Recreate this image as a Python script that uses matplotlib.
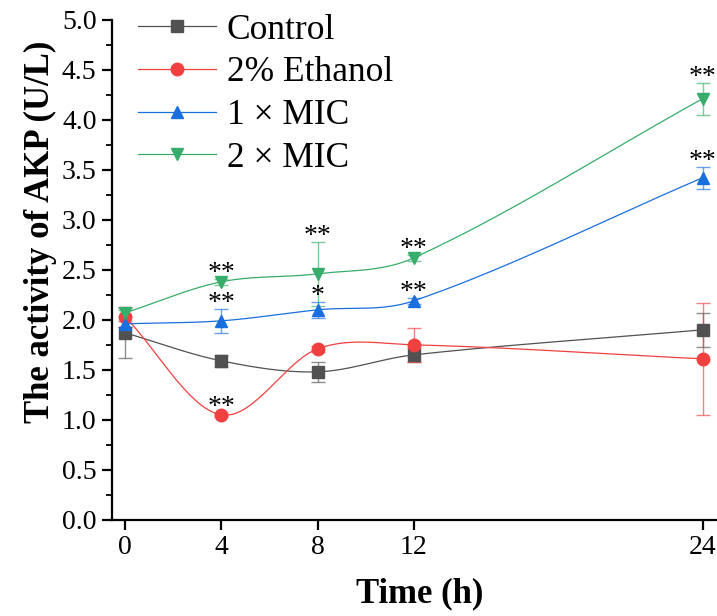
import numpy as np
import matplotlib
matplotlib.use("Agg")
import matplotlib.pyplot as plt
from matplotlib.ticker import MultipleLocator, FormatStrFormatter

plt.rcParams['font.family'] = ['Liberation Serif', 'DejaVu Serif']

# data
hours = [0, 4, 8, 12, 24]
labels = ['Control', '2% Ethanol', '1 × MIC', '2 × MIC']
control = [1.87, 1.59, 1.48, 1.65, 1.90]
control_err = [0.25, 0.06, 0.10, 0.07, 0.17]
ethanol = [2.03, 1.05, 1.71, 1.75, 1.61]
ethanol_err = [0.10, 0.02, 0.03, 0.17, 0.56]
mic1 = [1.96, 1.99, 2.10, 2.19, 3.42]
mic1_err = [0.03, 0.12, 0.08, 0.03, 0.11]
mic2 = [2.07, 2.38, 2.46, 2.62, 4.21]
mic2_err = [0.03, 0.03, 0.32, 0.03, 0.16]
# significance marks per series (index matches hours)
sig_ethanol = ['', '**', '', '', '']
sig_mic1 = ['', '**', '*', '**', '**']
sig_mic2 = ['', '**', '**', '**', '**']

colors = ['#515151', '#F14040', '#1A6FDF', '#37AD6B']
markers = ['s', 'o', '^', 'v']


def smooth_line(x, y, n=60):
    # cubic Hermite curve through the points, finite-difference slopes (drawing only)
    x = np.asarray(x, float)
    y = np.asarray(y, float)
    m = np.empty_like(y)
    m[0] = (y[1] - y[0]) / (x[1] - x[0])
    m[-1] = (y[-1] - y[-2]) / (x[-1] - x[-2])
    m[1:-1] = (y[2:] - y[:-2]) / (x[2:] - x[:-2])
    xs_all, ys_all = [], []
    s = np.linspace(0, 1, n)
    for i in range(len(x) - 1):
        h = x[i + 1] - x[i]
        h00 = 2 * s**3 - 3 * s**2 + 1
        h10 = s**3 - 2 * s**2 + s
        h01 = -2 * s**3 + 3 * s**2
        h11 = s**3 - s**2
        xs_all.append(x[i] + s * h)
        ys_all.append(h00 * y[i] + h10 * h * m[i] + h01 * y[i + 1] + h11 * h * m[i + 1])
    return np.concatenate(xs_all), np.concatenate(ys_all)


fig = plt.figure(figsize=(7.17, 6.16), dpi=100)
ax = fig.add_axes([0.156, 0.156, 0.844, 0.812])

series = [(control, control_err, None),
          (ethanol, ethanol_err, sig_ethanol),
          (mic1, mic1_err, sig_mic1),
          (mic2, mic2_err, sig_mic2)]

handles = []
for (vals, errs, sig), col, mk, lab in zip(series, colors, markers, labels):
    ax.errorbar(hours, vals, yerr=errs, fmt='none', ecolor=col, alpha=0.65,
                elinewidth=1.0, capsize=5, capthick=1.0, zorder=2)
    xs, ys = smooth_line(hours, vals)
    ax.plot(xs, ys, color=col, lw=0.9, zorder=3)
    ax.plot(hours, vals, ls='none', marker=mk, color=col, ms=9, zorder=4)
    h, = ax.plot([], [], color=col, lw=0.9, marker=mk, ms=9, label=lab)
    handles.append(h)
    if sig is not None:
        for xv, v, e, s in zip(hours, vals, errs, sig):
            if s:
                ax.annotate(s, (xv, v + e), xytext=(0, -5), textcoords='offset points',
                            ha='center', va='bottom', fontsize=20, color='black')

ax.set_xlim(-0.55, 24.6)
ax.set_ylim(0, 5)
ax.set_xticks(hours)
ax.yaxis.set_major_locator(MultipleLocator(0.5))
ax.yaxis.set_minor_locator(MultipleLocator(0.25))
ax.yaxis.set_major_formatter(FormatStrFormatter('%.1f'))
ax.spines['top'].set_visible(False)
ax.spines['right'].set_visible(False)
for sp in ['left', 'bottom']:
    ax.spines[sp].set_linewidth(1.6)
ax.tick_params(axis='both', which='major', direction='out', length=7, width=1.6,
               labelsize=20, pad=4)
ax.tick_params(axis='y', which='minor', direction='out', length=4, width=1.3)

ax.set_xlabel('Time (h)', fontsize=25, fontweight='bold', labelpad=12)
ax.xaxis.label.set_x(0.508)
ax.set_ylabel('The activity of AKP (U/L)', fontsize=25, fontweight='bold')
ax.yaxis.set_label_coords(-0.09, 0.576)

ax.legend(handles=handles, loc='upper left', bbox_to_anchor=(0.02, 1.04), frameon=False,
          fontsize=25.5, handlelength=2.2, handletextpad=0.3, labelspacing=0.27,
          borderaxespad=0)

fig.savefig('out.png', dpi=100)
